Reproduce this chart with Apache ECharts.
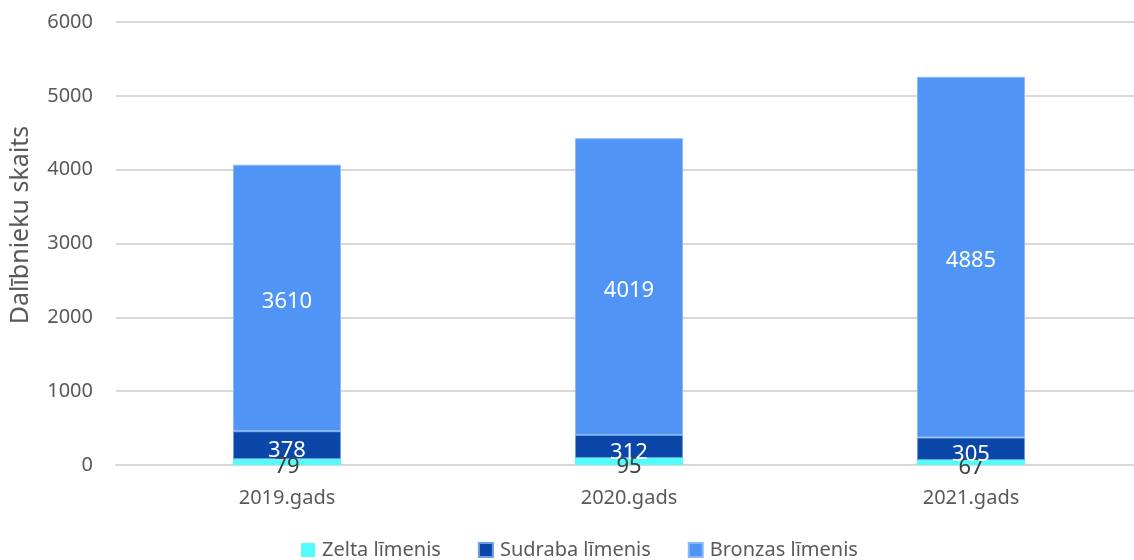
<!DOCTYPE html>
<html><head><meta charset="utf-8">
<script src="https://cdn.jsdelivr.net/npm/echarts@6/dist/echarts.min.js"></script>
<style>html,body{margin:0;padding:0;background:#fff}#c{width:1134px;height:560px}</style>
</head><body><div id="c"></div>
<script>
const categories = ['2019.gads', '2020.gads', '2021.gads'];
const zelta = [79, 95, 67];
const sudraba = [378, 312, 305];
const bronzas = [3610, 4019, 4885];
const seriesNames = ['Zelta līmenis', 'Sudraba līmenis', 'Bronzas līmenis'];
const yTitle = 'Dalībnieku skaits';

const font = 'Noto Sans';
const chart = echarts.init(document.getElementById('c'));
chart.setOption({
  animation: false,
  textStyle: { fontFamily: font },
  grid: { left: 116, width: 1026, top: 22, bottom: 95, outerBoundsMode: 'none', containLabel: false },
  legend: {
    top: 535, left: 296, itemWidth: 14, itemHeight: 14, itemGap: 37, icon: 'rect',
    textStyle: { fontSize: 20, color: '#595959', fontFamily: font, padding: [0, 0, 0, 2] },
    data: seriesNames
  },
  graphic: [{
    type: 'text', x: 21, y: 225, rotation: Math.PI / 2,
    style: { text: yTitle, fontSize: 25, fill: '#595959', fontFamily: font, align: 'center', verticalAlign: 'middle' }
  }],
  xAxis: {
    type: 'category', data: categories,
    axisLine: { lineStyle: { color: '#d9d9d9', width: 2 } },
    axisTick: { show: false },
    axisLabel: { fontSize: 20, color: '#595959', margin: 23 }
  },
  yAxis: {
    type: 'value', min: 0, max: 6000, interval: 1000,
    axisLine: { show: false }, axisTick: { show: false },
    axisLabel: { fontSize: 20, color: '#595959', margin: 23, formatter: v => String(v) },
    splitLine: { lineStyle: { color: '#d9d9d9', width: 2 } }
  },
  series: [
    { name: seriesNames[0], type: 'bar', stack: 's', data: zelta, barWidth: 108,
      itemStyle: { color: '#55FCFC' },
      label: { show: true, position: 'inside', color: '#404040', fontSize: 22, offset: [0, 5] } },
    { name: seriesNames[1], type: 'bar', stack: 's', data: sudraba,
      itemStyle: { color: '#0A47A9', borderColor: '#6a9ee0', borderWidth: 1 },
      label: { show: true, position: 'inside', color: '#ffffff', fontSize: 22, offset: [0, 6] } },
    { name: seriesNames[2], type: 'bar', stack: 's', data: bronzas,
      itemStyle: { color: '#5095F5', borderColor: '#8ab8f8', borderWidth: 1 },
      label: { show: true, position: 'inside', color: '#ffffff', fontSize: 22, offset: [0, 4] } }
  ]
});
</script></body></html>
